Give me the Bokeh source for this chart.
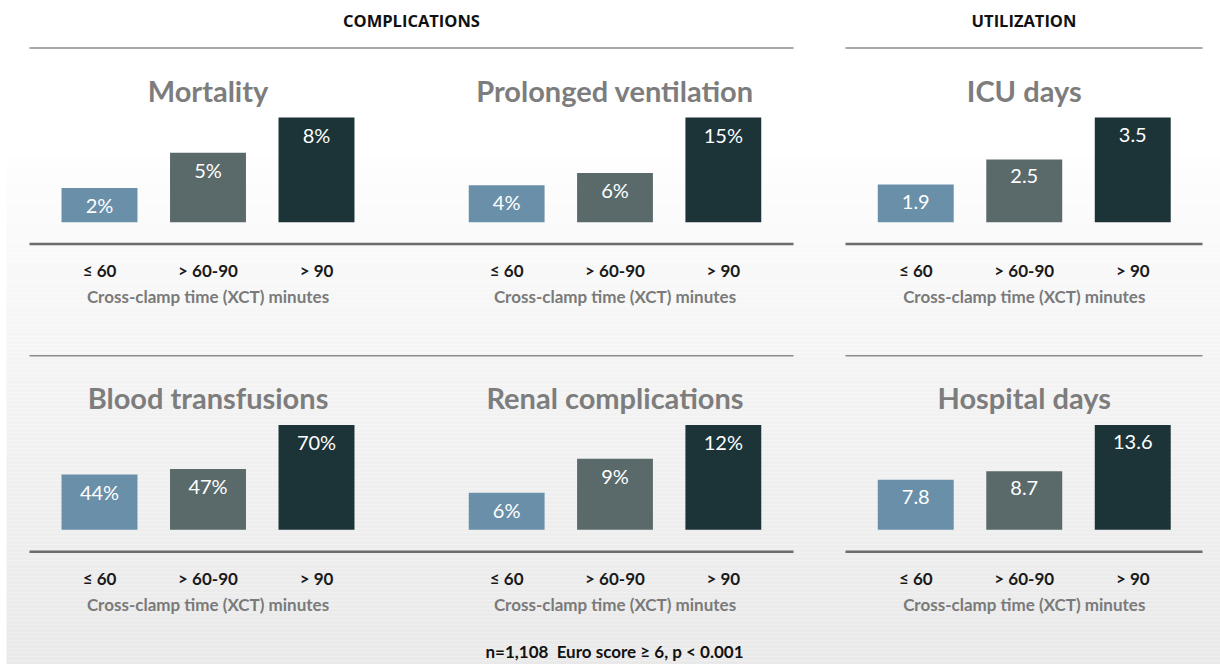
from bokeh.plotting import figure
from bokeh.models import Range1d
from bokeh.core.properties import value
from bokeh.embed import file_html
from bokeh.resources import INLINE

# ---------------- data ----------------
categories = ["≤ 60", "> 60-90", "> 90"]
section_titles = ["COMPLICATIONS", "UTILIZATION"]
panel_titles = ["Mortality", "Prolonged ventilation", "ICU days",
                "Blood transfusions", "Renal complications", "Hospital days"]
mortality = [2, 5, 8]
prolonged_ventilation = [4, 6, 15]
icu_days = [1.9, 2.5, 3.5]
blood_transfusions = [44, 47, 70]
renal_complications = [6, 9, 12]
hospital_days = [7.8, 8.7, 13.6]
is_percent = [True, True, False, True, True, False]
x_axis_title = "Cross-clamp time (XCT) minutes"
footnote = "n=1,108\u00a0\u00a0Euro score ≥ 6, p < 0.001"

series = [mortality, prolonged_ventilation, icu_days,
          blood_transfusions, renal_complications, hospital_days]
# truncated value axis floor of each panel (as in the original design)
axis_floor = [-0.9, -2.0, 1.0, 15, 2.7, 2.5]

# ---------------- style / layout ----------------
FONT = "Lato"
W, H = 1220, 664
bar_colors = ["#6a8fa9", "#5a6a6a", "#1c3438"]
TITLE_GREY = "#7d7d7d"


def Y(py):
    return H - py


panel_x = [(44.75, 370.25), (452.0, 777.0), (861.0, 1186.5)]
row_base = [221.7, 529.3]
BAR_MAX_PX = 104.7
ROW_SHIFT = 307.7

p = figure(width=W, height=H, x_range=Range1d(0, W), y_range=Range1d(0, H),
           output_backend="svg", toolbar_location=None, min_border=0,
           x_axis_location=None, y_axis_location=None)
p.grid.visible = False
p.outline_line_color = None
p.background_fill_color = "white"
p.border_fill_color = "white"

# background gradient (white at top to light grey at bottom)
step = 4
tops, bots, cols = [], [], []
for py in range(0, H, step):
    t = max(0.0, (py - 150) / (H - 150))
    g = round(255 - 22 * t ** 0.8)
    tops.append(Y(py))
    bots.append(Y(py + step))
    cols.append(f"#{g:02x}{g:02x}{g:02x}")
p.quad(left=6, right=W, top=tops, bottom=bots, fill_color=cols, line_color=None)

# section headers and rules
sec_spans = [(29, 793), (845, 1202)]
p.text(x=[(a + b) / 2 for a, b in sec_spans], y=[Y(20)] * 2, text=section_titles,
       text_font=value("Open Sans"), text_font_size="16.5px", text_font_style="bold",
       text_color="#111111", text_align="center", text_baseline="middle")

for row in range(2):
    ty = 47.5 + row * ROW_SHIFT
    by = 243.5 + row * ROW_SHIFT
    p.segment(x0=[a for a, b in sec_spans], x1=[b for a, b in sec_spans],
              y0=[Y(ty)] * 2, y1=[Y(ty)] * 2, line_color="#8a8a8a", line_width=1.6)
    p.segment(x0=[a for a, b in sec_spans], x1=[b for a, b in sec_spans],
              y0=[Y(by)] * 2, y1=[Y(by)] * 2, line_color="#6c6c6c", line_width=2.6)

cat_idx = list(range(len(categories)))

for i, vals in enumerate(series):
    row, col = divmod(i, 3)
    xl, xr = panel_x[col]
    cx = (xl + xr) / 2
    base = row_base[row]
    top = base - BAR_MAX_PX
    floor = axis_floor[i]
    if is_percent[i]:
        labels = [f"{v:g}%" for v in vals]
    else:
        labels = [f"{v:.1f}" for v in vals]

    # panel title and x-axis title
    p.text(x=[cx], y=[Y(89.5 + row * ROW_SHIFT)], text=[panel_titles[i]],
           text_font=value(FONT), text_font_size="29px", text_font_style="bold",
           text_color=TITLE_GREY, text_align="center", text_baseline="middle")
    p.text(x=[cx], y=[Y(296 + row * ROW_SHIFT)], text=[x_axis_title],
           text_font=value(FONT), text_font_size="17px", text_font_style="bold",
           text_color="#7a7a7a", text_align="center", text_baseline="middle")

    xy = p.subplot(x_source=Range1d(-0.5, len(categories) - 0.5),
                   x_target=Range1d(xl, xr),
                   y_source=Range1d(floor, max(vals)),
                   y_target=Range1d(Y(base), Y(top)))
    xy.vbar(x=cat_idx, top=vals, bottom=floor, width=0.7,
            fill_color=bar_colors, line_color=None)
    xy.text(x=cat_idx, y=vals, text=labels, y_offset=17,
            text_font=value(FONT), text_font_size="20px",
            text_color="white", text_align="center", text_baseline="middle")
    xy.text(x=cat_idx, y=[floor] * 3, text=categories, y_offset=48.5,
            text_font=value(FONT), text_font_size="17px", text_font_style="bold",
            text_color="#1a1a1a", text_align="center", text_baseline="middle")

p.text(x=[614], y=[Y(650.5)], text=[footnote],
       text_font=value(FONT), text_font_size="17px", text_font_style="bold",
       text_color="#111111", text_align="center", text_baseline="middle")

open("out.html", "w").write(file_html(p, INLINE))
